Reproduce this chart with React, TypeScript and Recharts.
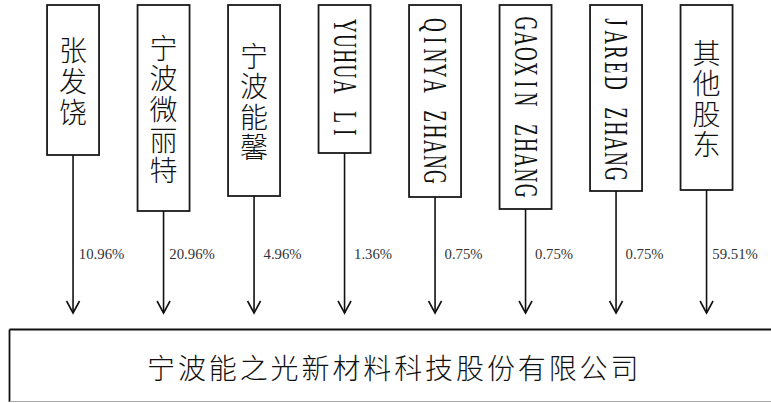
import React from 'react';
import { ComposedChart, Bar, XAxis, YAxis, Customized } from 'recharts';

// ---- data ----
const shareholders = ['张发饶', '宁波微丽特', '宁波能馨', 'YUHUA LI', 'QINYA ZHANG', 'GAOXIN ZHANG', 'JARED ZHANG', '其他股东'];
const shares = [10.96, 20.96, 4.96, 1.36, 0.75, 0.75, 0.75, 59.51];
const company = '宁波能之光新材料科技股份有限公司';

// ---- layout (not data) ----
const boxBottoms = [155, 211, 196, 153, 197, 209, 191, 190];
const BOX_TOP = 5;
const BOX_W = 52;
const ARROW_TIP = 313;
const LABEL_Y = 253.5;

const rows = shareholders.map((name, i) => ({ name, share: shares[i] }));

const CJK_FONT = '"Noto Sans CJK SC", sans-serif';
const isCJK = (s: string) => /[\u4e00-\u9fff]/.test(s);

const NodeShape = (props: any) => {
  const { x, width, index, payload } = props;
  const cx = x + width / 2;
  const bottom = boxBottoms[index];
  const cy = (BOX_TOP + bottom) / 2;
  const name: string = payload.name;
  let textEl: React.ReactNode;
  if (isCJK(name)) {
    const chars = Array.from(name);
    const pitch = 30.6;
    const y0 = cy - ((chars.length - 1) / 2) * pitch;
    textEl = (
      <text
        textAnchor="middle"
        dominantBaseline="central"
        fontFamily={CJK_FONT}
        fontSize={28}
        fontWeight={300}
        fill="#111"
      >
        {chars.map((c, i) => (
          <tspan key={i} x={cx} y={y0 + i * pitch}>
            {c}
          </tspan>
        ))}
      </text>
    );
  } else {
    const fs = 33;
    const pitch = 15.2;
    const sx = 0.58;
    const chars = Array.from(name);
    textEl = (
      <g transform={`translate(${cx},${cy}) rotate(90) scale(${sx},1)`}>
        <text
          y={fs * 0.33}
          textAnchor="middle"
          fontFamily='"Liberation Serif", serif'
          fontSize={fs}
          fill="#111"
        >
          {chars.map((c, i) => (
            <tspan key={i} x={((i - (chars.length - 1) / 2) * pitch) / sx}>
              {c === ' ' ? '\u00a0' : c}
            </tspan>
          ))}
        </text>
      </g>
    );
  }
  const label = `${payload.share.toFixed(2)}%`;
  return (
    <g>
      <rect x={cx - BOX_W / 2} y={BOX_TOP} width={BOX_W} height={bottom - BOX_TOP} fill="#fff" stroke="#1a1a1a" strokeWidth={1.8} />
      {textEl}
      <line x1={cx} y1={bottom} x2={cx} y2={ARROW_TIP} stroke="#111" strokeWidth={1.6} />
      <polyline
        points={`${cx - 6.5},${ARROW_TIP - 12} ${cx},${ARROW_TIP} ${cx + 6.5},${ARROW_TIP - 12}`}
        fill="none"
        stroke="#111"
        strokeWidth={1.6}
      />
      <text
        x={cx + 28.5}
        y={LABEL_Y}
        textAnchor="middle"
        dominantBaseline="central"
        fontFamily='"Liberation Serif", serif'
        fontSize={15}
        textLength={label.length * 7.6}
        lengthAdjust="spacingAndGlyphs"
        fill="#333"
      >
        {label}
      </text>
    </g>
  );
};

const CompanyBox = () => (
  <g>
    <rect x={9.5} y={329.5} width={770} height={72} fill="#fff" stroke="none" />
    <line x1={9.5} y1={329.5} x2={771} y2={329.5} stroke="#111" strokeWidth={1.8} />
    <line x1={9.5} y1={329.5} x2={9.5} y2={402} stroke="#111" strokeWidth={1.8} />
    <line x1={9.5} y1={401.5} x2={771} y2={401.5} stroke="#aaa" strokeWidth={1.2} />
    <text
      x={147}
      y={367}
      dominantBaseline="central"
      fontFamily={CJK_FONT}
      fontSize={28}
      fontWeight={300}
      letterSpacing={2.9}
      fill="#111"
    >
      {company}
    </text>
  </g>
);

export default function App() {
  return (
    <div style={{ position: 'absolute', left: 0, top: 0, width: 771, height: 403, background: '#fff' }}>
      <ComposedChart width={771} height={403} data={rows} margin={{ top: 0, right: 19, bottom: 0, left: 28 }}>
        <XAxis dataKey="name" hide />
        <YAxis hide domain={[0, 100]} />
        <Bar dataKey="share" shape={NodeShape} isAnimationActive={false} />
        <Customized component={CompanyBox} />
      </ComposedChart>
    </div>
  );
}
